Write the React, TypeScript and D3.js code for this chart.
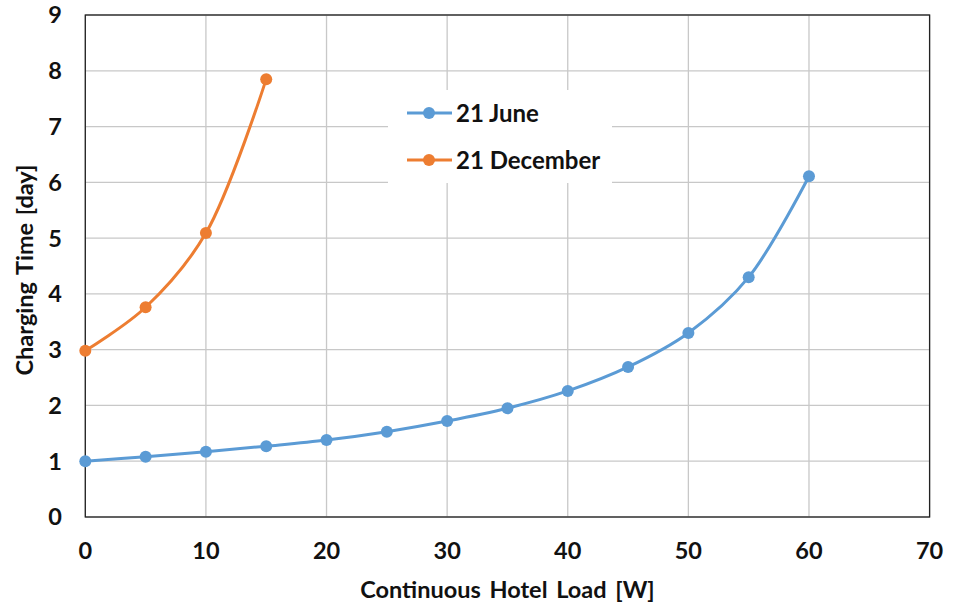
import React from "react";
import * as d3 from "d3";

const loads = [0, 5, 10, 15, 20, 25, 30, 35, 40, 45, 50, 55, 60];
const juneDays = [1.0, 1.08, 1.17, 1.27, 1.38, 1.53, 1.72, 1.95, 2.26, 2.69, 3.3, 4.3, 6.11];
const decLoads = [0, 5, 10, 15];
const decDays = [2.98, 3.76, 5.09, 7.85];
const xTicks = [0, 10, 20, 30, 40, 50, 60, 70];
const yTicks = [0, 1, 2, 3, 4, 5, 6, 7, 8, 9];
const seriesNames = ["21 June", "21 December"];

const W = 957, H = 603;
const L = 85.3, R = 929.6, T = 15, B = 517;
const BLUE = "#5B9BD5", ORANGE = "#ED7D31";
const FONT = "Lato, 'Open Sans', sans-serif";

export default function App() {
  const x = d3.scaleLinear().domain([0, 70]).range([L, R]);
  const y = d3.scaleLinear().domain([0, 9]).range([B, T]);
  const line = d3
    .line<[number, number]>()
    .x((d) => x(d[0]))
    .y((d) => y(d[1]))
    .curve(d3.curveCatmullRom.alpha(0.5));
  const june: [number, number][] = loads.map((l, i) => [l, juneDays[i]]);
  const dec: [number, number][] = decLoads.map((l, i) => [l, decDays[i]]);
  const series = [
    { name: seriesNames[0], data: june, color: BLUE },
    { name: seriesNames[1], data: dec, color: ORANGE },
  ];
  return (
    <svg width={W} height={H} style={{ position: "absolute", left: 0, top: 0, background: "#fff" }}>
      <rect x={0} y={0} width={W} height={H} fill="#fff" />
      {xTicks.map((t) => (
        <line key={"gx" + t} x1={x(t)} x2={x(t)} y1={T} y2={B} stroke="#c8c8c8" strokeWidth={1.3} />
      ))}
      {yTicks.map((t) => (
        <line key={"gy" + t} x1={L} x2={R} y1={y(t)} y2={y(t)} stroke="#c8c8c8" strokeWidth={1.3} />
      ))}
      <rect x={L} y={T} width={R - L} height={B - T} fill="none" stroke="#222" strokeWidth={1.3} />
      {yTicks.map((t) => (
        <text key={"ty" + t} x={62} y={y(t)} dy="0.36em" textAnchor="end" fontFamily={FONT} fontWeight="bold" fontSize={23.5} fill="#111">
          {t}
        </text>
      ))}
      {xTicks.map((t) => (
        <text key={"tx" + t} x={x(t)} y={551} dy="0.36em" textAnchor="middle" fontFamily={FONT} fontWeight="bold" fontSize={23.5} fill="#111">
          {t}
        </text>
      ))}
      <text x={(L + R) / 2} y={590} dy="0.36em" textAnchor="middle" fontFamily={FONT} fontWeight="bold" fontSize={23.5} wordSpacing={3} fill="#111">
        Continuous Hotel Load [W]
      </text>
      <text transform={`translate(25,${(T + B) / 2 + 4}) rotate(-90)`} dy="0.36em" textAnchor="middle" fontFamily={FONT} fontWeight="bold" fontSize={23.5} wordSpacing={2} fill="#111">
        Charging Time [day]
      </text>
      {series.map((s) => (
        <g key={s.name}>
          <path d={line(s.data) || ""} fill="none" stroke={s.color} strokeWidth={3} />
          {s.data.map((d, i) => (
            <circle key={i} cx={x(d[0])} cy={y(d[1])} r={6} fill={s.color} />
          ))}
        </g>
      ))}
      <rect x={388} y={90} width={224} height={93} fill="#fff" />
      {series.map((s, i) => (
        <g key={"lg" + s.name} transform={`translate(0,${113 + i * 47})`}>
          <line x1={407} x2={452} y1={0} y2={0} stroke={s.color} strokeWidth={3} />
          <circle cx={429} cy={0} r={6} fill={s.color} />
          <text x={456} y={0} dy="0.36em" fontFamily={FONT} fontWeight="bold" fontSize={24} fill="#111">
            {s.name}
          </text>
        </g>
      ))}
    </svg>
  );
}
